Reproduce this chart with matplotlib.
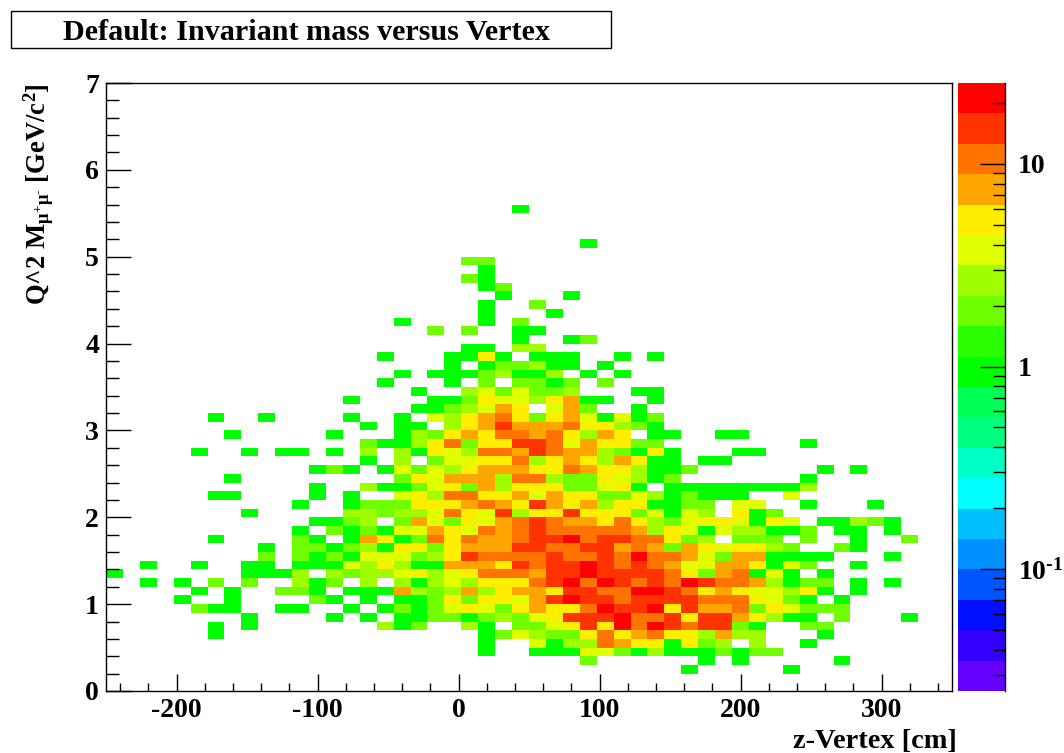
import numpy as np
import matplotlib
matplotlib.use('Agg')
import matplotlib.pyplot as plt
from matplotlib.colors import ListedColormap, BoundaryNorm
from matplotlib.patches import Rectangle
from matplotlib.ticker import FixedLocator, NullFormatter

plt.rcParams['font.family'] = ['Liberation Serif', 'DejaVu Serif']
plt.rcParams['font.weight'] = 'bold'
plt.rcParams['mathtext.fontset'] = 'custom'
plt.rcParams['mathtext.rm'] = 'Liberation Serif:bold'
plt.rcParams['mathtext.it'] = 'Liberation Serif:bold'
plt.rcParams['mathtext.bf'] = 'Liberation Serif:bold'
plt.rcParams['mathtext.default'] = 'rm'

# binning of the histogram
x_edges = np.arange(-250, 351, 12)
y_edges = np.arange(0, 71) / 10.0

# shade -> entries in the bin
shade_count = [0, 1, 2, 3, 4, 5, 7, 9, 14, 20]

# each row: {x bin: shade}, name is the Q bin (r31 = 3.1 to 3.2)
r55 = {24:1}
r51 = {28:1}
r49 = {21:2, 22:2}
r48 = {22:1}
r47 = {21:2, 22:1}
r46 = {22:1, 23:2}
r45 = {23:1, 27:1}
r44 = {22:1, 25:2}
r43 = {22:1, 26:1}
r42 = {17:1, 22:1, 24:2}
r41 = {19:2, 21:2, 24:1, 25:1}
r40 = {24:1, 27:1, 28:2}
r39 = {21:1, 22:1, 24:3, 25:3}
r38 = {16:1, 20:1, 21:1, 22:5, 23:1, 25:1, 26:1, 27:1, 30:1, 32:1}
r37 = {20:1, 22:1, 23:2, 24:2, 25:3, 26:1, 27:1, 29:1}
r36 = {17:1, 19:1, 20:1, 21:1, 22:2, 23:3, 24:1, 25:1, 26:3, 28:1, 30:1}
r35 = {16:1, 20:1, 22:2, 24:2, 25:2, 26:1, 27:2, 29:2}
r34 = {18:1, 21:3, 22:4, 23:2, 24:4, 25:2, 26:2, 27:3, 31:1, 32:1}
r33 = {14:1, 19:1, 20:1, 21:2, 22:5, 23:4, 24:4, 25:3, 26:5, 27:6, 28:1, 29:1, 32:1}
r32 = {18:1, 19:1, 20:2, 21:3, 22:4, 23:6, 24:5, 26:4, 27:6, 28:2, 31:1}
r31 = {6:1, 9:1, 14:1, 17:1, 19:4, 20:3, 21:5, 22:6, 23:7, 24:5, 25:2, 26:5, 27:6, 28:4, 29:1, 30:4, 31:1, 32:2}
r30 = {15:1, 17:1, 18:1, 20:3, 21:5, 22:6, 23:8, 24:6, 25:6, 26:6, 27:7, 28:5, 29:5, 30:3, 31:2, 32:1}
r29 = {7:1, 13:1, 17:1, 18:3, 19:2, 20:5, 21:6, 22:5, 23:7, 24:7, 25:6, 26:7, 27:5, 28:3, 29:6, 30:5, 32:1, 33:1, 36:1, 37:1}
r28 = {15:2, 16:1, 17:1, 18:3, 19:5, 20:7, 21:2, 22:5, 23:5, 24:8, 25:8, 26:7, 27:4, 28:6, 29:5, 30:5, 31:2, 32:2, 41:1}
r27 = {5:1, 8:1, 10:1, 11:1, 13:1, 15:3, 17:3, 18:1, 19:5, 20:4, 21:3, 22:7, 23:7, 24:6, 25:8, 26:7, 27:6, 28:6, 29:3, 30:2, 31:1, 32:5, 33:1, 37:1, 38:1}
r26 = {15:1, 17:3, 19:2, 20:4, 21:4, 22:5, 23:5, 24:7, 25:3, 26:5, 27:6, 28:5, 29:3, 30:6, 31:5, 32:1, 33:1, 35:1, 36:1}
r25 = {12:1, 13:2, 14:1, 16:1, 17:4, 18:2, 19:4, 20:3, 21:5, 22:6, 23:6, 24:6, 25:5, 26:5, 27:7, 28:6, 29:5, 30:5, 31:3, 32:1, 33:1, 34:2, 42:1, 44:1}
r24 = {7:1, 17:2, 18:5, 19:4, 20:6, 21:6, 22:6, 23:3, 24:7, 25:7, 26:3, 27:2, 28:2, 29:5, 30:4, 31:3, 32:1, 33:2, 41:1}
r23 = {12:1, 15:3, 16:1, 17:1, 18:2, 19:4, 20:5, 21:2, 22:6, 23:3, 24:5, 25:5, 26:5, 27:2, 28:2, 29:4, 30:5, 31:1, 33:1, 34:1, 35:1, 36:1, 37:1, 38:1, 39:1, 40:1, 41:3}
r22 = {6:1, 7:1, 12:1, 14:1, 17:4, 18:5, 19:3, 20:7, 21:7, 22:5, 23:5, 24:6, 25:4, 26:6, 27:5, 28:5, 29:2, 30:2, 31:4, 32:3, 33:1, 34:2, 35:1, 36:1, 37:1, 40:4}
r21 = {11:1, 14:1, 15:2, 16:2, 17:2, 18:5, 19:5, 20:5, 21:6, 22:7, 23:6, 24:5, 25:8, 26:6, 27:5, 28:6, 29:3, 30:5, 31:5, 32:1, 33:1, 34:2, 35:2, 37:4, 38:4, 41:1, 45:1}
r20 = {8:1, 14:3, 15:3, 16:2, 17:3, 18:3, 19:4, 20:7, 21:5, 22:4, 23:8, 24:3, 25:5, 26:5, 27:8, 28:5, 29:5, 30:5, 31:2, 32:4, 33:1, 34:4, 35:3, 37:5, 38:1, 39:2}
r19 = {12:1, 13:1, 14:2, 15:3, 17:2, 18:6, 19:4, 20:2, 21:5, 22:4, 23:6, 24:7, 25:8, 26:7, 27:6, 28:6, 29:5, 30:7, 31:5, 32:3, 33:2, 34:4, 35:5, 36:5, 37:4, 38:1, 39:5, 40:4, 42:1, 43:1, 44:3, 45:2, 46:1}
r18 = {11:1, 13:2, 14:1, 15:2, 16:1, 17:4, 18:4, 19:6, 20:5, 21:4, 22:7, 23:6, 24:7, 25:8, 26:7, 27:7, 28:7, 29:7, 30:7, 31:6, 32:3, 33:5, 34:4, 35:1, 36:4, 37:3, 38:3, 39:1, 40:1, 41:2, 43:1, 44:1, 46:1}
r17 = {6:1, 11:2, 12:1, 14:1, 15:6, 16:5, 17:1, 18:2, 19:7, 20:5, 21:7, 22:6, 23:6, 24:7, 25:8, 26:8, 27:9, 28:7, 29:8, 30:8, 31:7, 32:7, 33:5, 34:2, 35:3, 37:2, 38:2, 39:2, 41:2, 44:1, 47:2}
r16 = {9:1, 11:2, 12:2, 13:1, 14:2, 15:3, 16:1, 17:5, 18:5, 19:2, 20:5, 21:6, 22:6, 23:6, 24:8, 25:8, 26:7, 27:7, 28:8, 29:8, 30:6, 31:7, 32:6, 33:2, 34:6, 35:5, 36:4, 37:5, 38:5, 39:3, 40:2, 43:2, 44:1}
r15 = {9:2, 11:2, 12:1, 13:2, 14:1, 15:4, 16:4, 17:4, 18:2, 19:3, 20:5, 21:8, 22:7, 23:7, 24:7, 25:7, 26:8, 27:7, 28:7, 29:8, 30:7, 31:9, 32:7, 33:7, 34:6, 35:4, 36:2, 37:6, 38:6, 39:1, 40:1, 41:1, 42:1, 46:1}
r14 = {2:1, 5:1, 8:1, 9:1, 11:1, 12:1, 13:1, 14:4, 15:3, 16:5, 17:3, 18:1, 19:1, 20:6, 21:6, 22:6, 23:5, 24:8, 25:7, 26:8, 27:8, 28:9, 29:8, 30:7, 31:8, 32:7, 33:6, 34:4, 35:4, 36:6, 37:6, 38:5, 39:1, 40:4, 41:2, 44:1}
r13 = {0:1, 8:1, 9:1, 10:1, 11:3, 13:3, 14:2, 15:3, 16:3, 17:4, 18:5, 19:3, 20:4, 21:5, 22:7, 23:7, 24:7, 25:6, 26:8, 27:8, 28:9, 29:8, 30:8, 31:8, 32:8, 33:7, 34:5, 35:2, 36:6, 37:7, 38:1, 39:4, 40:1, 42:1}
r12 = {2:1, 4:1, 6:2, 8:2, 11:3, 12:1, 13:2, 15:3, 17:3, 18:1, 19:3, 20:4, 21:3, 22:5, 23:5, 24:5, 25:7, 26:8, 27:9, 28:7, 29:9, 30:8, 31:7, 32:8, 33:7, 34:9, 35:8, 36:7, 37:7, 38:6, 39:3, 40:1, 41:2, 42:2, 44:1, 46:1}
r11 = {5:1, 7:1, 10:2, 11:2, 12:1, 14:1, 15:1, 16:1, 17:6, 18:3, 19:2, 20:3, 21:6, 22:3, 23:5, 24:6, 25:6, 26:5, 27:8, 28:8, 29:7, 30:7, 31:9, 32:9, 33:8, 34:7, 35:5, 36:6, 37:5, 38:4, 39:4, 40:3, 41:5, 42:1, 44:1}
r10 = {4:1, 7:1, 12:2, 13:1, 15:1, 17:1, 18:1, 19:2, 20:5, 21:2, 22:5, 23:5, 24:4, 25:6, 26:8, 27:9, 28:8, 29:8, 30:7, 31:8, 32:8, 33:8, 34:8, 35:7, 36:7, 37:7, 38:5, 39:4, 40:2, 41:1, 43:1}
r09 = {5:2, 6:1, 7:1, 10:1, 11:1, 14:1, 16:1, 17:2, 18:1, 19:2, 20:4, 21:5, 22:4, 23:2, 24:5, 25:6, 26:5, 27:5, 28:7, 29:9, 30:8, 31:8, 32:9, 33:5, 34:8, 35:6, 36:6, 37:7, 38:2, 39:5, 40:4, 41:2, 42:2, 43:2}
r08 = {8:1, 13:1, 15:1, 17:1, 18:1, 19:2, 20:2, 21:1, 22:2, 23:3, 24:2, 25:4, 26:5, 27:8, 28:8, 29:8, 30:9, 31:7, 32:7, 33:8, 34:5, 35:8, 36:8, 37:6, 38:5, 39:3, 40:1, 41:1, 43:2, 47:1}
r07 = {6:1, 8:1, 16:3, 17:1, 18:2, 21:3, 22:1, 24:2, 25:2, 26:4, 27:5, 28:8, 29:5, 30:9, 31:7, 32:9, 33:8, 34:7, 35:8, 36:8, 37:2, 38:1, 41:2, 42:2}
r06 = {6:1, 22:1, 23:2, 24:4, 25:3, 26:2, 27:2, 28:5, 29:7, 30:5, 31:6, 32:7, 33:5, 34:5, 35:3, 36:6, 37:3, 38:3, 42:1}
r05 = {22:1, 25:4, 26:1, 27:3, 28:3, 29:7, 30:6, 31:5, 32:5, 33:1, 34:5, 35:2, 36:3, 38:3, 41:1}
r04 = {22:1, 25:1, 26:1, 27:1, 28:4, 29:4, 30:2, 31:1, 32:3, 33:1, 34:1, 35:1, 36:2, 37:1, 38:2, 39:2}
r03 = {28:2, 35:1, 37:1, 43:1}
r02 = {34:1, 40:1}

rows = {2:r02, 3:r03, 4:r04, 5:r05, 6:r06, 7:r07, 8:r08, 9:r09, 10:r10, 11:r11, 12:r12,
        13:r13, 14:r14, 15:r15, 16:r16, 17:r17, 18:r18, 19:r19, 20:r20, 21:r21, 22:r22,
        23:r23, 24:r24, 25:r25, 26:r26, 27:r27, 28:r28, 29:r29, 30:r30, 31:r31, 32:r32,
        33:r33, 34:r34, 35:r35, 36:r36, 37:r37, 38:r38, 39:r39, 40:r40, 41:r41, 42:r42,
        43:r43, 44:r44, 45:r45, 46:r46, 47:r47, 48:r48, 49:r49, 51:r51, 55:r55}

# palette of the z axis, bottom to top
palette = ['#6600ff', '#3300ff', '#0010ff', '#0055ff', '#0090ff', '#00bfff', '#00ffff',
           '#00ffc4', '#00ff80', '#00ff55', '#00ff00', '#2aff00', '#6fff00', '#9fff00',
           '#e0ff00', '#ffee00', '#ffa500', '#ff7300', '#ff3300', '#ff0000']
z_min = 0.025
z_max = 25.1

counts = np.full((70, 50), np.nan)
for j in rows:
    for i in rows[j]:
        counts[j, i] = shade_count[rows[j][i]]

W, H = 1064.0, 753.0
fig = plt.figure(figsize=(W / 100, H / 100), dpi=100)

ax = fig.add_axes([106 / W, 1 - 691 / H, 846 / W, 608 / H])
z_edges = np.logspace(np.log10(z_min), np.log10(z_max), 21)
cmap = ListedColormap(palette)
norm = BoundaryNorm(z_edges, 20)
ax.pcolormesh(x_edges, y_edges, counts, cmap=cmap, norm=norm)
ax.set_xlim(-250, 350)
ax.set_ylim(0, 7)
for s in ax.spines.values():
    s.set_linewidth(1.0)
ax.set_xticks(np.arange(-200, 301, 100))
ax.set_xticks(np.arange(-240, 350, 20), minor=True)
ax.set_yticks(np.arange(0, 8))
ax.set_yticks(np.arange(0, 7.01, 0.2), minor=True)
ax.tick_params(axis='x', which='major', direction='in', length=12, width=1.0, labelsize=20, pad=5)
ax.tick_params(axis='x', which='minor', direction='in', length=6, width=1.0)
ax.tick_params(axis='y', which='major', direction='in', length=18, width=1.0, labelsize=20, pad=5)
ax.tick_params(axis='y', which='minor', direction='in', length=9, width=1.0)
ax.set_xticklabels(['-200', '-100', '0', '100', '200', '300'])

# z axis drawn as its own log scale strip
cax = fig.add_axes([958 / W, 1 - 691 / H, 47.5 / W, 608 / H])
cax.pcolormesh([0, 1], z_edges, np.arange(20).reshape(-1, 1), cmap=cmap, vmin=-0.5, vmax=19.5)
cax.set_yscale('log')
cax.set_ylim(z_min, z_max)
cax.set_xlim(0, 1)
cax.set_xticks([])
for name in ['top', 'left', 'bottom']:
    cax.spines[name].set_visible(False)
cax.spines['right'].set_linewidth(1.0)
cax.yaxis.tick_right()
cax.yaxis.set_major_locator(FixedLocator([0.1, 1, 10]))
cax.yaxis.set_minor_locator(FixedLocator([0.03, 0.04, 0.05, 0.06, 0.07, 0.08, 0.09,
                                          0.2, 0.3, 0.4, 0.5, 0.6, 0.7, 0.8, 0.9,
                                          2, 3, 4, 5, 6, 7, 8, 9, 20]))
cax.yaxis.set_minor_formatter(NullFormatter())
# hyphen, not a math minus: the minus is too wide and runs off the figure
cax.set_yticklabels(['10$^{\u20101}$', '1', '10'])
cax.tick_params(axis='y', which='major', direction='in', length=18, width=1.0, labelsize=20, pad=9)
cax.tick_params(axis='y', which='minor', direction='in', length=9, width=1.0)

fig.text(957 / W, 1 - 741 / H, 'z-Vertex [cm]', ha='right', va='center', fontsize=20.4)
fig.text(39 / W, 1 - 83 / H, 'Q^2 M$_{μ^{+}μ^{\u2010}}$ [GeV/c$^{2}$]', rotation=90,
         ha='center', va='top', fontsize=19.2)

# title box
fig.add_artist(Rectangle((11 / W, 1 - 48 / H), 600 / W, 37 / H, transform=fig.transFigure,
                         facecolor='white', edgecolor='black', linewidth=1.0))
fig.text(306 / W, 1 - 33 / H, 'Default: Invariant mass versus Vertex', ha='center', va='center', fontsize=21.7)

fig.savefig('out.png', dpi=100)
